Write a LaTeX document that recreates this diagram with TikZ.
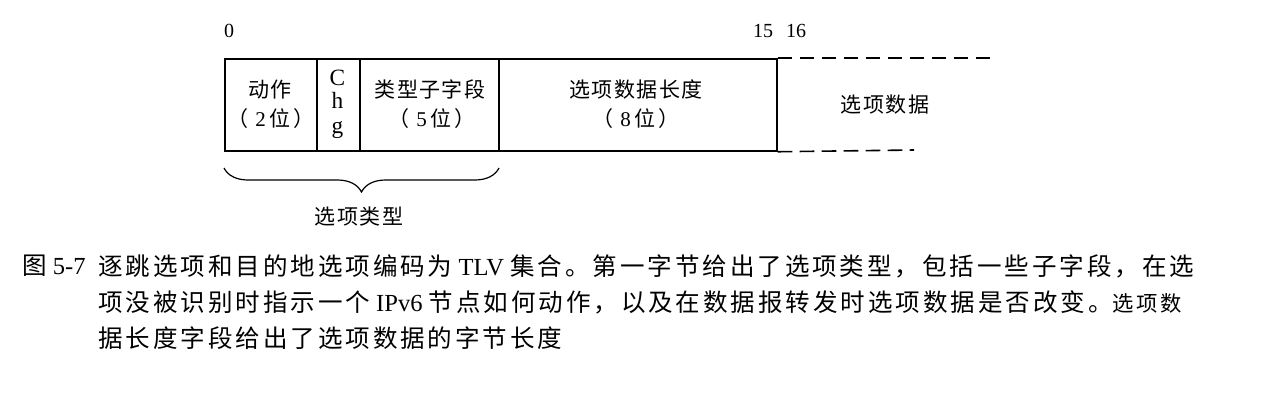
\documentclass[tikz,border=0pt]{standalone}
\usepackage{fontspec}
\setmainfont{Liberation Serif}
\newfontfamily\cjk[LetterSpace=7]{Noto Sans CJK SC}
\newfontfamily\capcjk[LetterSpace=12]{Noto Sans CJK SC}
\usetikzlibrary{decorations.pathreplacing}
\newcommand{\bitsfield}[1]{{\cjk （}\hspace{5pt}#1\hspace{3pt}{\cjk 位}\hspace{2pt}{\cjk ）}}
\tikzset{
  field/.style={draw, line width=1.3pt, minimum height=69pt, inner sep=0pt, anchor=north west},
  dashline/.style={line width=1.2pt, dash pattern=on 11pt off 5.5pt},
  lbl/.style={inner sep=0pt, font=\fontsize{15.75}{18}\selectfont},
  chgl/.style={inner sep=0pt, anchor=base, font=\fontsize{17.5}{20}\selectfont},
  num/.style={inner sep=0pt, font=\fontsize{15}{17}\selectfont},
  capline/.style={inner sep=0pt, anchor=west, font=\fontsize{18.4}{22}\selectfont},
}
\begin{document}
\begin{tikzpicture}[x=0.75pt,y=-0.75pt]
\useasboundingbox (0,0) rectangle (1265,401);
% fields
\node[field, minimum width=69pt] (act) at (224,58) {};
\node[field, minimum width=32.25pt] (chg) at (316,58) {};
\node[field, minimum width=104.25pt] (typ) at (359,58) {};
\node[field, minimum width=208.5pt] (len) at (498,58) {};
\coordinate (topend) at (995,58);
\coordinate (botend) at (914,150);
\draw[dashline] (len.north east) -- (topend);
\draw[dashline] (len.south east) -- (botend);
% bit numbers
\node[num] (b0) at (229,31) {0};
\node[num] (b15) at (763,31) {15};
\node[num] (b16) at (796,31) {16};
% labels
\node[lbl] (t1) at (270,90) {\cjk 动作};
\node[lbl] (t2) at (271,119) {\bitsfield{2}};
\node[chgl] (c1) at (337.5,85) {C};
\node[chgl] (c2) at (337.5,108.5) {h};
\node[chgl] (c3) at (337.5,133) {g};
\node[lbl] (t3) at (430,89) {\cjk 类型子字段};
\node[lbl] (t4) at (432,119) {\bitsfield{5}};
\node[lbl] (t5) at (636,89) {\cjk 选项数据长度};
\node[lbl] (t6) at (636,119) {\bitsfield{8}};
\node[lbl] (t7) at (885,105) {\cjk 选项数据};
% brace
\coordinate (bl) at (224,168);
\coordinate (br) at (499,168);
\draw[line width=0.9pt, decorate, decoration={brace, mirror, amplitude=18pt}] (bl) -- (br);
\node[lbl] (t8) at (359,217) {\cjk 选项类型};
% caption
\node[capline] (fig) at (22,266) {{\capcjk 图} 5-7};
\node[capline] (l1) at (98,266) {{\capcjk 逐跳选项和目的地选项编码为} TLV {\capcjk 集合。第一字节给出了选项类型，包括一些子字段，在选}};
\node[capline] (l2) at (98,302) {{\capcjk 项没被识别时指示一个} IPv6 {\capcjk 节点如何动作，以及在数据报转发时选项数据是否改变。}{\fontsize{16}{20}\selectfont\capcjk 选项数}};
\node[capline] (l3) at (98,338) {\capcjk 据长度字段给出了选项数据的字节长度};
\end{tikzpicture}
\end{document}
